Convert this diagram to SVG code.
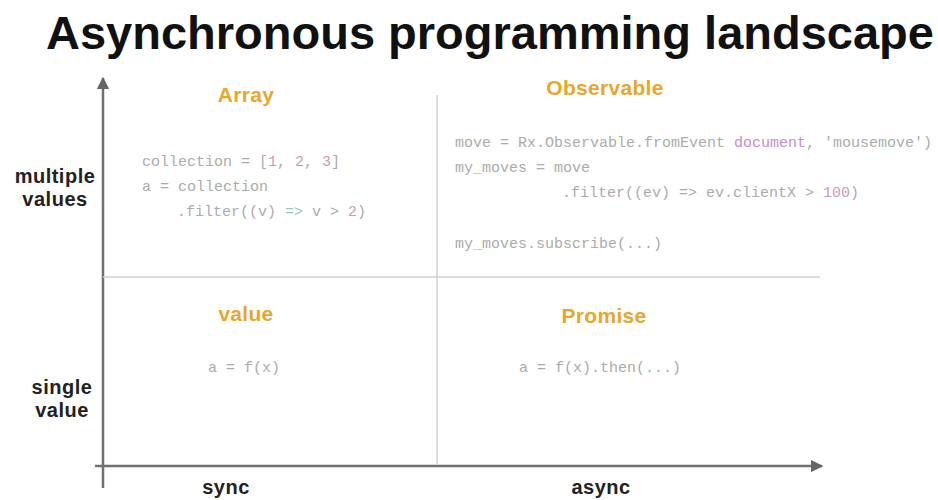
<svg xmlns="http://www.w3.org/2000/svg" width="938" height="500" viewBox="0 0 938 500">
<defs>
<marker id="arr" viewBox="0 0 10 10" refX="9" refY="5" markerWidth="5" markerHeight="5" orient="auto" markerUnits="strokeWidth">
<path d="M0,0 L10,5 L0,10 z" fill="#666"/>
</marker>
<style>
.title{font-family:"Liberation Sans",Arial,sans-serif;font-weight:bold;font-size:47px;fill:#111;text-anchor:middle}
.ax{font-family:"Liberation Sans",Arial,sans-serif;font-weight:bold;font-size:20px;letter-spacing:0.5px;fill:#222;text-anchor:middle}
.hd{font-family:"Liberation Sans",Arial,sans-serif;font-weight:bold;font-size:21px;letter-spacing:0.3px;fill:#e8a72a;text-anchor:middle}
.code{font-family:"Liberation Mono","Courier New",monospace;font-size:15px;fill:#ababab}
.num{fill:#c99ab8}
.kw{fill:#c98ac9}
.op{fill:#9cc4c0}
.axis{stroke:#707070;stroke-width:2.5;fill:none}
.div{stroke:#cfcfcf;stroke-width:1.5;fill:none}
</style>
</defs>
<rect width="938" height="500" fill="#fff"/>
<text class="title" x="490" y="49">Asynchronous programming landscape</text>
<g id="connectors">
<line class="axis" x1="103" y1="488" x2="103" y2="78" marker-end="url(#arr)"/>
<line class="axis" x1="95" y1="466" x2="822" y2="466" marker-end="url(#arr)"/>
<line class="div" x1="437" y1="95" x2="437" y2="465"/>
<line class="div" x1="103" y1="277" x2="820" y2="277"/>
</g>
<g id="axis-labels">
<text class="ax" x="55" y="183">multiple</text>
<text class="ax" x="55" y="206">values</text>
<text class="ax" x="62" y="394">single</text>
<text class="ax" x="62" y="417">value</text>
<text class="ax" x="226" y="494">sync</text>
<text class="ax" x="601" y="494">async</text>
</g>
<g id="array">
<text class="hd" x="246" y="102">Array</text>
<text class="code" x="142" y="166">collection = [<tspan class="num">1</tspan>, <tspan class="num">2</tspan>, <tspan class="num">3</tspan>]</text>
<text class="code" x="142" y="191">a = collection</text>
<text class="code" x="177" y="216">.filter((v) <tspan class="op">=&gt;</tspan> v &gt; <tspan class="num">2</tspan>)</text>
</g>
<g id="observable">
<text class="hd" x="605" y="95">Observable</text>
<text class="code" x="455" y="147">move = Rx.Observable.fromEvent <tspan class="kw">document</tspan>, 'mousemove')</text>
<text class="code" x="455" y="172">my_moves = move</text>
<text class="code" x="562" y="197">.filter((ev) =&gt; ev.clientX &gt; <tspan class="num">100</tspan>)</text>
<text class="code" x="455" y="248">my_moves.subscribe(...)</text>
</g>
<g id="value">
<text class="hd" x="246" y="321">value</text>
<text class="code" x="208" y="372">a = f(x)</text>
</g>
<g id="promise">
<text class="hd" x="604" y="323">Promise</text>
<text class="code" x="519" y="372">a = f(x).then(...)</text>
</g>
</svg>
